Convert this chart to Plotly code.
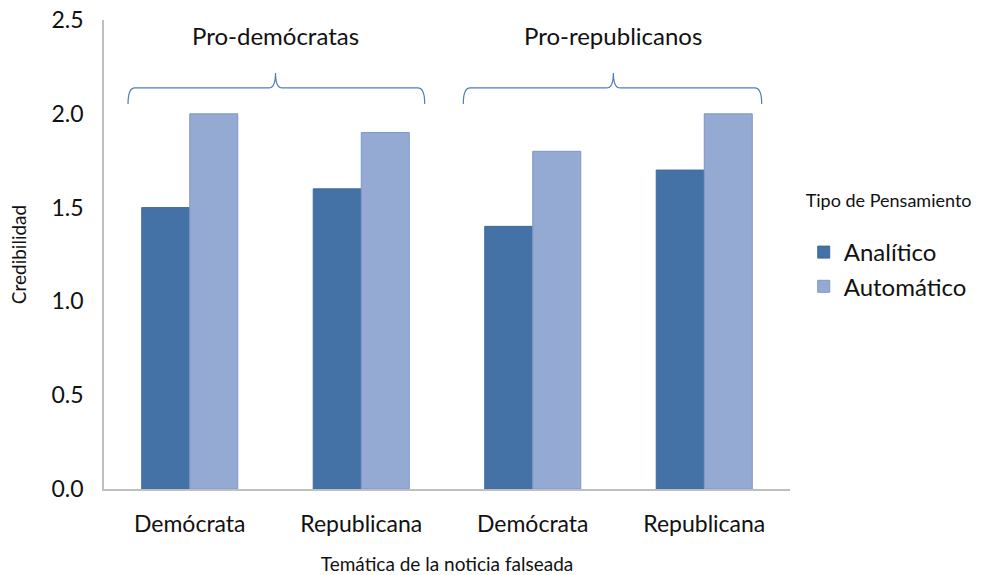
import plotly.graph_objects as go

categories = ["Demócrata", "Republicana", "Demócrata", "Republicana"]
analitico = [1.5, 1.6, 1.4, 1.7]
automatico = [2.0, 1.9, 1.8, 2.0]
groups = ["Pro-demócratas", "Pro-republicanos"]

x = list(range(len(categories)))
FONT = "Lato"

# brace layout (x in category units): left end, tip, right end
BRACES = [(-0.36, 0.5, 1.37), (1.595, 2.47, 3.335)]

fig = go.Figure()
fig.add_trace(go.Bar(x=x, y=analitico, name="Analítico", legendgroup="a",
                     marker=dict(color="#4472A6", line=dict(color="#3F6A9C", width=1))))
fig.add_trace(go.Bar(x=x, y=automatico, name="Automático", legendgroup="b",
                     marker=dict(color="#94AAD3", line=dict(color="#7F97C6", width=1))))

y_end, y_mid, y_tip, y_txt = 2.052, 2.138, 2.218, 2.42
for label, (x0, xm, x1) in zip(groups, BRACES):
    dx = 0.04
    path = (f"M {x0},{y_end} Q {x0},{y_mid} {x0+dx},{y_mid} "
            f"L {xm-dx},{y_mid} Q {xm},{y_mid} {xm},{y_tip} "
            f"Q {xm},{y_mid} {xm+dx},{y_mid} "
            f"L {x1-dx},{y_mid} Q {x1},{y_mid} {x1},{y_end}")
    fig.add_shape(type="path", path=path, xref="x", yref="y",
                  line=dict(color="#4F7DB8", width=1.2))
    fig.add_annotation(x=xm, y=y_txt, xref="x", yref="y", text=label, showarrow=False,
                       font=dict(family=FONT, size=24, color="#111111"))

fig.update_layout(
    width=988, height=575,
    margin=dict(l=104, r=198, t=20, b=86),
    paper_bgcolor="white", plot_bgcolor="white",
    barmode="group", bargap=0.44, bargroupgap=0,
    font=dict(family=FONT, color="#111111"),
    showlegend=True,
    legend=dict(x=1.02, y=0.652, xanchor="left", yanchor="top",
                title=dict(text="Tipo de Pensamiento<br> ", font=dict(size=18)),
                font=dict(size=24), tracegroupgap=16, traceorder="normal"),
    xaxis=dict(range=[-0.5, 3.5], tickvals=x, ticktext=categories,
               showline=True, linecolor="#BFBFBF", linewidth=1.5,
               showgrid=False, zeroline=False, ticks="", automargin=False,
               tickfont=dict(size=23), ticklabelstandoff=14,
               title=dict(text="Temática de la noticia falseada", font=dict(size=19), standoff=26)),
    yaxis=dict(range=[0, 2.5], dtick=0.5, tickformat=".1f",
               showline=True, linecolor="#BFBFBF", linewidth=1.5,
               showgrid=False, zeroline=False, ticks="", automargin=False,
               tickfont=dict(size=23), ticklabelstandoff=14,
               title=dict(text="Credibilidad", font=dict(size=19), standoff=20)),
)

fig.write_html("out.html")
